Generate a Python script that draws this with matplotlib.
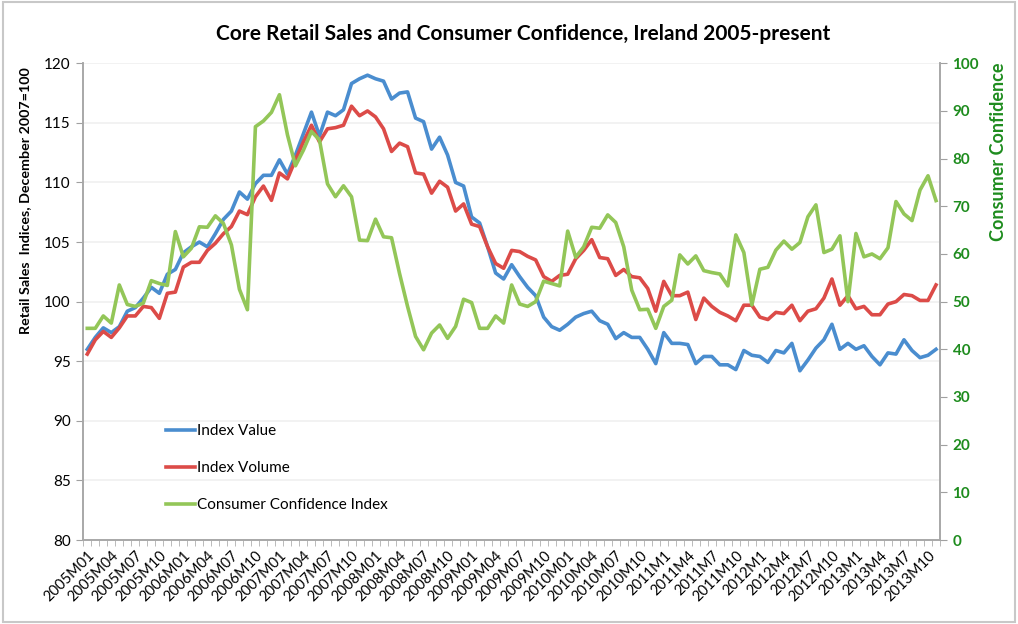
import matplotlib
matplotlib.use('Agg')
import matplotlib.pyplot as plt
from matplotlib.patches import Rectangle

plt.rcParams['font.family'] = ['Lato', 'DejaVu Sans']

# monthly categories 2005M01 .. 2013M11 (Excel labels switch format in 2011)
years = list(range(2005, 2014))
months = []
for y in years:
    for m in range(1, 13):
        if y <= 2010:
            months.append('%dM%02d' % (y, m))
        else:
            months.append('%dM%d' % (y, m))
months = months[:107]

index_value = [
    96.0, 97.0, 97.8, 97.4, 97.9, 99.2, 99.5, 100.3, 101.2, 100.7,
    102.3, 102.7, 104.1, 104.6, 105.0, 104.6, 105.7, 106.9, 107.6, 109.2,
    108.6, 109.9, 110.6, 110.6, 111.9, 110.7, 112.3, 114.1, 115.9, 113.9,
    115.9, 115.6, 116.1, 118.3, 118.7, 119.0, 118.7, 118.5, 117.0, 117.5,
    117.6, 115.4, 115.1, 112.8, 113.8, 112.3, 110.0, 109.7, 107.1, 106.6,
    104.6, 102.4, 101.9, 103.1, 102.1, 101.2, 100.5, 98.7, 97.9, 97.6,
    98.1, 98.7, 99.0, 99.2, 98.4, 98.1, 96.9, 97.4, 97.0, 97.0,
    96.0, 94.8, 97.4, 96.5, 96.5, 96.4, 94.8, 95.4, 95.4, 94.7,
    94.7, 94.3, 95.9, 95.5, 95.4, 94.9, 95.9, 95.7, 96.5, 94.2,
    95.1, 96.1, 96.8, 98.1, 96.0, 96.5, 96.0, 96.3, 95.4, 94.7,
    95.7, 95.6, 96.8, 95.9, 95.3, 95.5, 96.0,
]

index_volume = [
    95.6, 96.8, 97.5, 97.0, 97.8, 98.8, 98.8, 99.6, 99.5, 98.6,
    100.7, 100.8, 102.9, 103.3, 103.3, 104.3, 104.9, 105.7, 106.3, 107.6,
    107.3, 108.8, 109.7, 108.5, 110.8, 110.3, 111.9, 113.4, 114.8, 113.4,
    114.5, 114.6, 114.8, 116.4, 115.6, 116.0, 115.5, 114.5, 112.6, 113.3,
    113.0, 110.8, 110.7, 109.1, 110.1, 109.6, 107.6, 108.2, 106.5, 106.3,
    104.6, 103.2, 102.8, 104.3, 104.2, 103.8, 103.5, 102.1, 101.7, 102.2,
    102.3, 103.6, 104.3, 105.2, 103.7, 103.6, 102.2, 102.7, 102.1, 102.0,
    101.1, 99.2, 101.7, 100.5, 100.5, 100.8, 98.5, 100.3, 99.6, 99.1,
    98.8, 98.4, 99.7, 99.7, 98.7, 98.5, 99.1, 99.0, 99.7, 98.4,
    99.2, 99.4, 100.3, 101.9, 99.7, 100.5, 99.4, 99.6, 98.9, 98.9,
    99.8, 100.0, 100.6, 100.5, 100.1, 100.1, 101.4,
]

consumer_conf = [
    44.4, 44.4, 47.0, 45.5, 53.5, 49.4, 49.0, 49.7, 54.4, 53.8,
    53.4, 64.7, 59.4, 61.2, 65.7, 65.6, 68.0, 66.4, 61.9, 52.6,
    48.3, 86.7, 87.9, 89.7, 93.4, 85.0, 78.5, 81.8, 85.7, 83.9,
    74.7, 72.0, 74.3, 72.0, 62.9, 62.8, 67.3, 63.6, 63.4, 55.9,
    49.0, 42.7, 39.9, 43.4, 45.1, 42.3, 44.8, 50.5, 49.8, 44.4,
    44.4, 47.0, 45.5, 53.5, 49.5, 49.0, 50.0, 54.3, 53.8, 53.3,
    64.8, 59.3, 61.5, 65.6, 65.4, 68.2, 66.6, 61.5, 52.4, 48.3,
    48.4, 44.4, 49.0, 50.3, 59.8, 57.9, 59.6, 56.5, 56.1, 55.8,
    53.3, 64.0, 60.3, 49.3, 56.8, 57.2, 60.8, 62.7, 61.0, 62.4,
    67.8, 70.3, 60.3, 61.0, 63.8, 50.0, 64.3, 59.4, 60.0, 59.0,
    61.3, 71.0, 68.4, 67.0, 73.4, 76.4, 71.2,
]

blue = '#4a8dcf'
red = '#dc4b48'
green = '#93c658'
dark_green = '#1e8c1e'

fig = plt.figure(figsize=(10.18, 6.24), dpi=100)
fig.patches.append(Rectangle((0.003, 0.004), 0.994, 0.992, transform=fig.transFigure,
                             fill=False, edgecolor='#c8c8c8', linewidth=1.5))

ax = fig.add_axes([0.0818, 0.1346, 0.8416, 0.764])
ax2 = ax.twinx()

x = list(range(len(months)))
l1, = ax.plot(x, index_value, color=blue, lw=2.6, label='Index Value')
l2, = ax.plot(x, index_volume, color=red, lw=2.6, label='Index Volume')
l3, = ax2.plot(x, consumer_conf, color=green, lw=2.6, label='Consumer Confidence Index')

ax.set_xlim(-0.5, len(months) - 0.5)
ax.set_ylim(80, 120)
ax.set_yticks(range(80, 121, 5))
ax2.set_ylim(0, 100)
ax2.set_yticks(range(0, 101, 10))

ax.yaxis.grid(True, color='#f0f0f0', lw=1.2)
ax.set_axisbelow(True)

ax.set_xticks(x[::3])
ax.set_xticklabels(months[::3], rotation=45, ha='right', rotation_mode='anchor', fontsize=10.5)
ax.set_xticks([i - 0.5 for i in range(len(months) + 1)], minor=True)
ax.tick_params(axis='x', which='major', length=0, pad=6)
ax.tick_params(axis='x', which='minor', length=4, color='#b0b0b0', direction='out')
ax.tick_params(axis='y', length=5, color='#a0a0a0', labelsize=11, pad=4)
ax2.tick_params(axis='y', length=5, color='#a0a0a0', labelsize=11, labelcolor=dark_green, pad=4)
for t in ax2.get_yticklabels():
    t.set_fontweight('bold')

for a in (ax, ax2):
    a.spines['top'].set_visible(False)
    for s in ('left', 'right', 'bottom'):
        a.spines[s].set_color('#a8a8a8')
        a.spines[s].set_linewidth(1.2)

ax.set_ylabel('Retail Sales  Indices, December 2007=100', fontsize=10.3, fontweight='bold')
ax.yaxis.set_label_coords(-0.061, 0.711)
ax2.set_ylabel('Consumer Confidence', fontsize=13, fontweight='bold', color=dark_green)
ax2.yaxis.set_label_coords(1.058, 0.814)

fig.text(0.514, 0.945, 'Core Retail Sales and Consumer Confidence, Ireland 2005-present',
         ha='center', va='center', fontsize=15, fontweight='bold')

ax2.legend(handles=[l1, l2, l3], loc='lower left', bbox_to_anchor=(0.081, 0.03),
           frameon=False, fontsize=11, handlelength=1.9, handletextpad=0.1,
           labelspacing=1.5)

fig.savefig('out.png', dpi=100)
